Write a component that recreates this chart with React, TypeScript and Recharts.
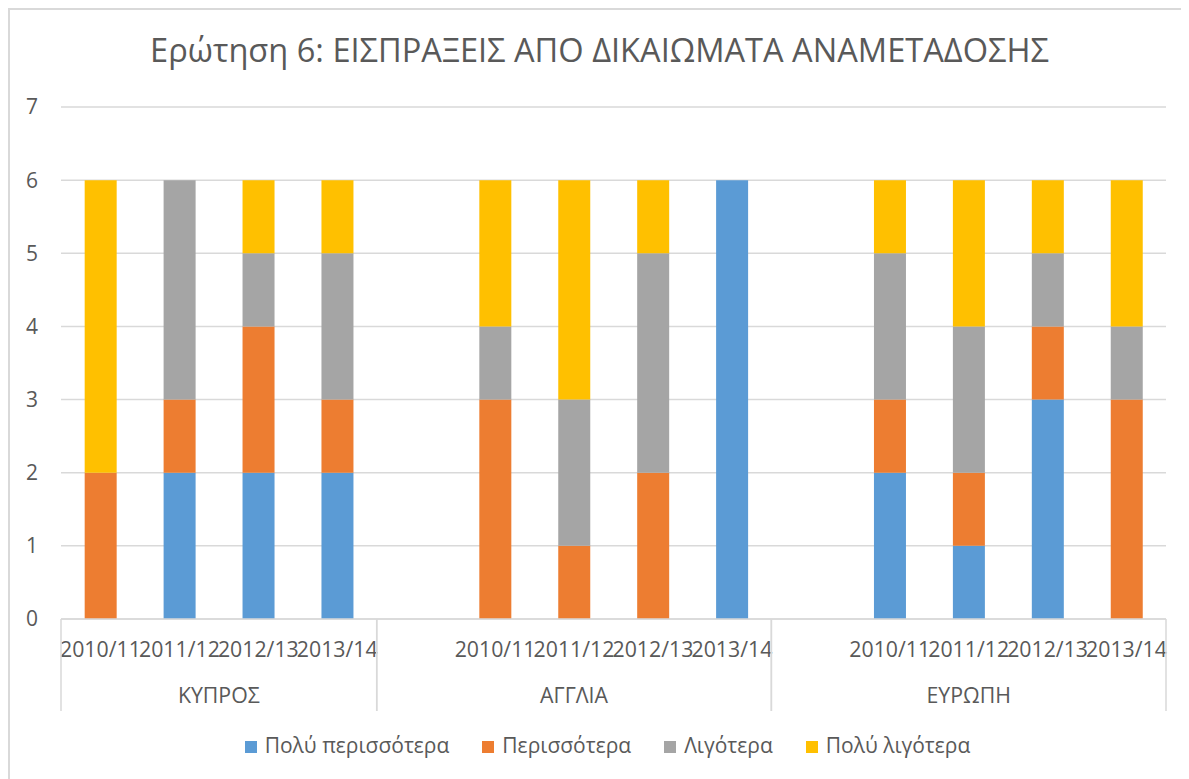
import { BarChart, Bar, XAxis, YAxis, CartesianGrid, Legend } from 'recharts'

const TITLE = 'Ερώτηση 6: ΕΙΣΠΡΑΞΕΙΣ ΑΠΟ ΔΙΚΑΙΩΜΑΤΑ ΑΝΑΜΕΤΑΔΟΣΗΣ'
const GROUPS = ['ΚΥΠΡΟΣ', 'ΑΓΓΛΙΑ', 'ΕΥΡΩΠΗ']
// the sheet has an empty row before ΑΓΓΛΙΑ and ΕΥΡΩΠΗ, so those groups have 5 slots
const SLOT_GROUP = [0, 0, 0, 0, 1, 1, 1, 1, 1, 2, 2, 2, 2, 2]
const SLOT_YEAR = ['2010/11', '2011/12', '2012/13', '2013/14', '', '2010/11', '2011/12', '2012/13', '2013/14', '', '2010/11', '2011/12', '2012/13', '2013/14']

const MUCH_MORE = [0, 2, 2, 2, null, 0, 0, 0, 6, null, 2, 1, 3, 0]
const MORE = [2, 1, 2, 1, null, 3, 1, 2, 0, null, 1, 1, 1, 3]
const LESS = [0, 3, 1, 2, null, 1, 2, 3, 0, null, 2, 2, 1, 1]
const MUCH_LESS = [4, 0, 1, 1, null, 2, 3, 1, 0, null, 1, 2, 1, 2]
const Y_TICKS = [0, 1, 2, 3, 4, 5, 6, 7]

const SERIES = [
  { key: 'muchMore', name: 'Πολύ περισσότερα', color: '#5b9bd5', values: MUCH_MORE },
  { key: 'more', name: 'Περισσότερα', color: '#ed7d31', values: MORE },
  { key: 'less', name: 'Λιγότερα', color: '#a5a5a5', values: LESS },
  { key: 'muchLess', name: 'Πολύ λιγότερα', color: '#ffc000', values: MUCH_LESS },
]
const SERIES_ORDER = SERIES.map(s => s.key)

const data = SLOT_YEAR.map((year, i) => {
  const row: any = { id: `${GROUPS[SLOT_GROUP[i]]}|${year}|${i}`, year, group: SLOT_GROUP[i] }
  SERIES.forEach(s => { row[s.key] = s.values[i] })
  return row
})

const TEXT = '#595959'
const LINE = '#d9d9d9'
const FONT = '"Open Sans", sans-serif'
const YEAR_H = 46
const GROUP_H = 46

const YearTick = (props: any) => {
  const { x, y, index } = props
  return (
    <text x={x} y={y + 30} textAnchor="middle" fill={TEXT} fontSize={21.3} fontFamily={FONT}>
      {data[index]?.year}
    </text>
  )
}

const GroupTick = (props: any) => {
  const { x, y, index, payload } = props
  const g = SLOT_GROUP[index]
  const first = SLOT_GROUP.indexOf(g)
  if (index !== first) return <g />
  const count = SLOT_GROUP.filter(v => v === g).length
  const half = payload?.offset ?? 0
  const left = x - half
  const right = left + count * half * 2
  const top = y - YEAR_H
  const bottom = y + GROUP_H
  return (
    <g>
      <line x1={left} x2={left} y1={top} y2={bottom} stroke={LINE} strokeWidth={1.5} />
      <line x1={right} x2={right} y1={top} y2={bottom} stroke={LINE} strokeWidth={1.5} />
      <text x={(left + right) / 2} y={y + 38} textAnchor="middle" fill={TEXT} fontSize={21.3} fontFamily={FONT}>
        {GROUPS[g]}
      </text>
    </g>
  )
}

export default function App() {
  return (
    <div style={{ position: 'relative', width: 1181, height: 771, boxSizing: 'border-box', borderTop: `2px solid ${LINE}`, borderLeft: `2px solid ${LINE}`, background: '#fff' }}>
      <div style={{ position: 'absolute', left: 0, right: 0, top: 17, textAlign: 'center', fontFamily: FONT, fontSize: 32.6, color: TEXT }}>
        {TITLE}
      </div>
      <BarChart width={1179} height={769} data={data} barCategoryGap="30%"
        margin={{ top: 97, right: 23, left: 0, bottom: 20 }}>
        <CartesianGrid vertical={false} stroke={LINE} strokeWidth={1.5} />
        <XAxis dataKey="id" interval={0} height={YEAR_H} tick={<YearTick />} tickLine={false}
          axisLine={{ stroke: LINE, strokeWidth: 1.5 }} />
        <XAxis dataKey="id" xAxisId="grp" interval={0} height={GROUP_H} tick={<GroupTick />}
          tickLine={false} axisLine={false} tickSize={0} tickMargin={0} />
        <YAxis domain={[0, 7]} ticks={Y_TICKS} width={51} tickLine={false} axisLine={false} tickMargin={17}
          tick={{ fill: TEXT, fontSize: 21, fontFamily: FONT }} />
        <Legend verticalAlign="bottom" iconType="square" iconSize={12}
          itemSorter={(item: any) => SERIES_ORDER.indexOf(item.dataKey)}
          wrapperStyle={{ fontFamily: FONT, fontSize: 21, paddingTop: 20, paddingLeft: 36 }}
          formatter={(v: any) => <span style={{ color: TEXT, marginLeft: 4, marginRight: 23 }}>{v}</span>} />
        {SERIES.map(s => (
          <Bar key={s.key} dataKey={s.key} name={s.name} stackId="a" fill={s.color} isAnimationActive={false} />
        ))}
      </BarChart>
    </div>
  )
}
